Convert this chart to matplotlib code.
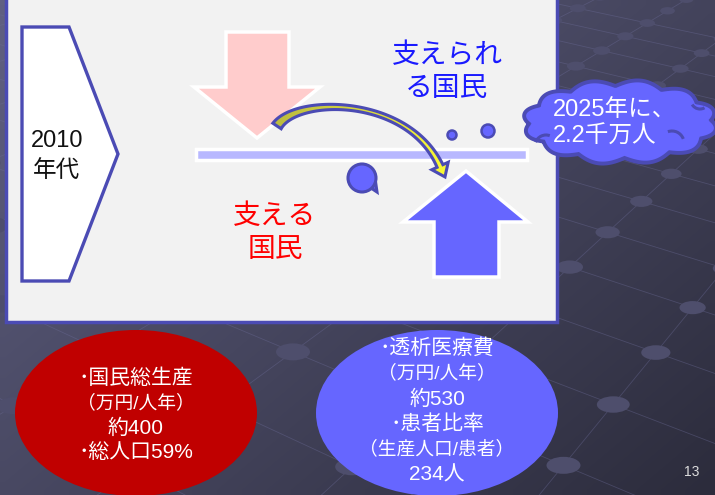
import numpy as np
import matplotlib.pyplot as plt
from matplotlib.patches import Polygon, Ellipse, Circle, Rectangle, Arc
from matplotlib.colors import LinearSegmentedColormap, to_rgb

plt.rcParams['font.family'] = ['Liberation Sans', 'Noto Sans CJK JP']

# figures written on the slide
decade = 2010
target_year = 2025
supported_people = 2.2      # 千万人
gnp_per_person = 400        # 万円/人年
working_share = 59          # % of total population
dialysis_cost = 530         # 万円/人年
workers_per_patient = 234   # 人
page_no = 13

red_lines = ['･国民総生産', '（万円/人年）', f'約{gnp_per_person}', f'･総人口{working_share}%']
red_sizes = [15, 13.5, 15, 15]
blue_lines = ['･透析医療費', '（万円/人年）', f'約{dialysis_cost}',
              '･患者比率', '（生産人口/患者）', f'{workers_per_patient}人']
blue_sizes = [15, 13.5, 15, 15, 13.5, 15]

W, H = 715, 495
EDGE = '#4b4bb4'
BLUE = '#6666ff'

fig = plt.figure(figsize=(W / 100, H / 100), dpi=100)
ax = fig.add_axes([0, 0, 1, 1])


def fix_limits():
    ax.set_xlim(0, W)
    ax.set_ylim(H, 0)


# dark backdrop, lighter towards the top left
gx, gy = np.meshgrid(np.linspace(0, 1, 72), np.linspace(0, 1, 50))
tt = 0.55 * gx + 0.45 * gy
c0, c1 = np.array(to_rgb('#606082')), np.array(to_rgb('#2c2c3c'))
bg = c0 * (1 - tt[..., None]) + c1 * tt[..., None]
ax.imshow(bg, extent=(0, W, H, 0), interpolation='bilinear', aspect='auto', zorder=0)


# perspective lattice with knobs at the crossings
def fit_homography(src, dst):
    rows = []
    for (u, v), (x, y) in zip(src, dst):
        rows.append([u, v, 1, 0, 0, 0, -x * u, -x * v, -x])
        rows.append([0, 0, 0, u, v, 1, -y * u, -y * v, -y])
    _, _, vt = np.linalg.svd(np.array(rows, float))
    return vt[-1].reshape(3, 3)


def project(Hm, u, v):
    u = np.asarray(u, float)
    v = np.asarray(v, float)
    p = Hm @ np.vstack([u, v, np.ones_like(u)])
    return p[0] / p[2], p[1] / p[2], p[2]


Hm = fit_homography([(0, 0), (1, 0), (1, 4), (0, -3), (2, -3)],
                    [(693, 308), (570, 267), (698, 149), (563, 465), (293, 352)])
w_ref = project(Hm, [0], [0])[2][0]

s = np.linspace(-15, 15, 600)
for k in range(-6, 10):
    for uu, vv in ((np.full_like(s, k), s), (s, np.full_like(s, k))):
        x, y, w = project(Hm, uu, vv)
        ok = (np.sign(w) == np.sign(w_ref)) & (np.abs(x) < 3000) & (np.abs(y) < 3000)
        x = np.where(ok, x, np.nan)
        y = np.where(ok, y, np.nan)
        ax.plot(x, y, color='#6c6c98', lw=0.6, alpha=0.4, zorder=1)

for u in range(-6, 10):
    for v in range(-12, 14):
        x, y, w = project(Hm, [u], [v])
        if np.sign(w[0]) != np.sign(w_ref) or not (-30 < x[0] < W + 30 and -30 < y[0] < H + 30):
            continue
        x2, y2, _ = project(Hm, [u], [v + 1])
        d = np.hypot(x2[0] - x[0], y2[0] - y[0])
        ew = min(0.4 * d + 6, 34)
        ax.add_patch(Ellipse((x[0], y[0]), ew, ew * 0.5, facecolor='#4e4e6c',
                             edgecolor='none', zorder=2))

# white panel
ax.add_patch(Rectangle((5.5, -10), 551.5, 332, facecolor='#f2f2f2', edgecolor=EDGE,
                       lw=2.5, zorder=3))

# 2010 chevron
ax.add_patch(Polygon([(22, 27), (69, 27), (118, 154), (69, 281), (22, 281)],
                     facecolor='white', edgecolor=EDGE, lw=2.4, joinstyle='miter', zorder=4))
ax.text(57, 141, str(decade), ha='center', va='center', fontsize=17, color='#111111', zorder=5)
ax.text(57, 171, '年代', ha='center', va='center', fontsize=17, color='#111111', zorder=5)

# pink arrow coming down
ax.add_patch(Polygon([(226, 32), (289, 32), (289, 87), (320, 87), (257, 138), (194, 87), (226, 87)],
                     facecolor='#ffcccc', edgecolor='white', lw=2.5, joinstyle='miter', zorder=4))

# blue arrow going up
ax.add_patch(Polygon([(434, 277), (499, 277), (499, 222), (528, 222), (466, 171), (403, 222), (434, 222)],
                     facecolor=BLUE, edgecolor='white', lw=2.5, joinstyle='miter', zorder=4))

# balance bar
ax.add_patch(Rectangle((196, 149), 331, 11, facecolor='#b8b8ff', edgecolor='white',
                       lw=2.5, zorder=4))

# curved arrow with a yellow gradient fill
P = np.array([[277, 126], [297, 96], [408, 96], [440, 166]], float)
t = np.linspace(0, 1, 90)[:, None]
pts = (1 - t) ** 3 * P[0] + 3 * (1 - t) ** 2 * t * P[1] + 3 * (1 - t) * t ** 2 * P[2] + t ** 3 * P[3]
der = 3 * (1 - t) ** 2 * (P[1] - P[0]) + 6 * (1 - t) * t * (P[2] - P[1]) + 3 * t ** 2 * (P[3] - P[2])
tan = der / np.linalg.norm(der, axis=1, keepdims=True)
nrm = np.column_stack([-tan[:, 1], tan[:, 0]])
hw = 5.0 * (1 - t) ** 2 + 0.6 * 2 * t * (1 - t) + 3.2 * t ** 2
left, right = pts + nrm * hw, pts - nrm * hw
base, dv, nv = pts[-1], tan[-1], nrm[-1]
head = [base + nv * 9, base + dv * 12, base - nv * 9]
arrow = Polygon(np.vstack([left, head, right[::-1]]), facecolor='none', edgecolor=EDGE,
                lw=2.2, joinstyle='miter', zorder=7)
ax.add_patch(arrow)
cmap = LinearSegmentedColormap.from_list('olive_yellow', ['#b8b840', '#d8d83c', '#ffff33'])
im = ax.imshow(np.linspace(0, 1, 64)[None, :], cmap=cmap, extent=(265, 460, 195, 90),
               aspect='auto', zorder=6)
im.set_clip_path(arrow)

# round callout and small bubbles
for cx, cy, r in [(362, 178, 14), (452, 135, 4.5), (488, 131, 6.5)]:
    ax.add_patch(Circle((cx, cy), r, facecolor=BLUE, edgecolor=EDGE,
                        lw=2.2 if r > 10 else 1.8, zorder=5))
ax.add_patch(Polygon([(368, 186), (377, 192), (375, 178)], facecolor=BLUE, edgecolor=EDGE,
                     lw=2.2, zorder=4))

# captions inside the panel
ax.text(447, 56, '支えられ', ha='center', va='center', fontsize=20, color='#1a1aff', zorder=5)
ax.text(447, 89, 'る国民', ha='center', va='center', fontsize=20, color='#1a1aff', zorder=5)
ax.text(275, 217, '支える', ha='center', va='center', fontsize=20, color='#ff0000', zorder=5)
ax.text(275, 250, '国民', ha='center', va='center', fontsize=20, color='#ff0000', zorder=5)

# cloud note: an ellipse with a scalloped rim
th = np.linspace(0, 2 * np.pi, 720)
rim = 1 + 0.07 * np.abs(np.sin(6 * th + 0.3))
cloud_x = 620 + 91 * rim * np.cos(th)
cloud_y = 122 + 36 * rim * np.sin(th) * (1 + 0.1 * np.abs(np.sin(6 * th + 0.3)))
ax.add_patch(Polygon(np.column_stack([cloud_x, cloud_y]), facecolor=BLUE, edgecolor=EDGE,
                     lw=2.8, zorder=8))
for cx, cy, r, a0, a1 in [(546, 146, 11, 200, 290), (672, 143, 12, 250, 340), (700, 100, 9, 60, 150)]:
    ax.add_patch(Arc((cx, cy), 2 * r, 2 * r, theta1=a0, theta2=a1, color=EDGE, lw=2.2, zorder=9))
ax.text(553, 110, f'{target_year}年に、', ha='left', va='center', fontsize=17, color='white', zorder=10)
ax.text(553, 137, f'{supported_people}千万人', ha='left', va='center', fontsize=17, color='white', zorder=10)

# the two ovals with the figures
ax.add_patch(Ellipse((136, 413), 242, 166, facecolor='#c00000', edgecolor='none', zorder=5))
ax.add_patch(Ellipse((437, 413), 242, 166, facecolor=BLUE, edgecolor='none', zorder=5))
for i, (line, fs) in enumerate(zip(red_lines, red_sizes)):
    ax.text(136, 378 + 25 * i, line, ha='center', va='center', fontsize=fs, color='white', zorder=6)
for i, (line, fs) in enumerate(zip(blue_lines, blue_sizes)):
    ax.text(437, 348 + 25.4 * i, line, ha='center', va='center', fontsize=fs, color='white', zorder=6)

ax.text(692, 472, str(page_no), ha='center', va='center', fontsize=10, color='#dddddd', zorder=6)

fix_limits()
ax.axis('off')
fig.savefig('out.png', dpi=100)
